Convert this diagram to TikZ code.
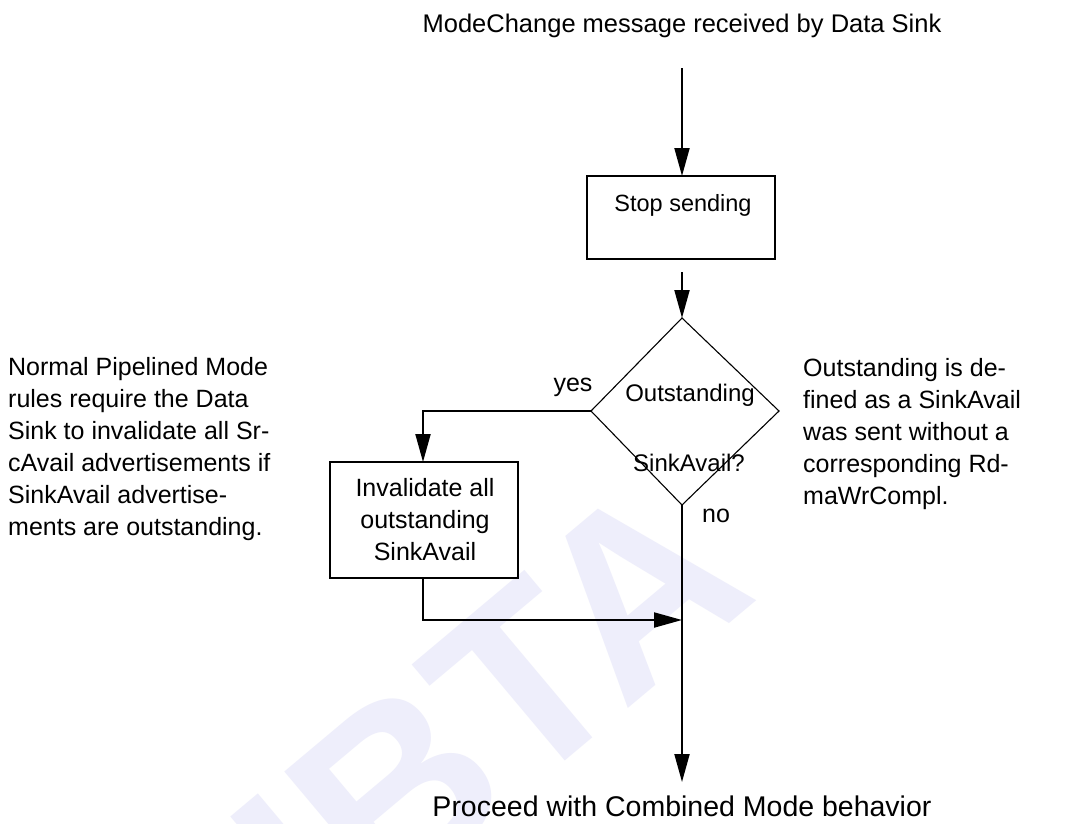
\documentclass[tikz,border=0pt]{standalone}
\usepackage{fontspec}
\setmainfont{Liberation Sans}
\usetikzlibrary{arrows.meta}
\definecolor{wm}{RGB}{238,238,251}
\begin{document}
\begin{tikzpicture}[x=1pt,y=-1pt,
  txt/.style={inner sep=0pt,font=\fontsize{25}{32}\selectfont},
  boxline/.style={draw,line width=2.4pt},
  conn/.style={line width=2pt,-{Triangle[length=28pt,width=15pt]}},
  plain/.style={line width=2pt}]
\useasboundingbox (0,0) rectangle (1076,823);
\fill[white] (0,0) rectangle (1076,823);
% watermark
\node[wm,rotate=40,font=\fontsize{250}{250}\selectfont\bfseries,inner sep=0pt] (wmark) at (490,712) {IBTA};
% texts
\node[txt,font=\fontsize{25.5}{32}\selectfont] (start) at (682,26) {ModeChange message received by Data Sink};
\node[txt,font=\fontsize{28.5}{32}\selectfont] (finish) at (682,806) {Proceed with Combined Mode behavior};
% stop box
\path[boxline] (587,176) rectangle (775,259);
\coordinate (stopT) at (682,176);
\coordinate (stopB) at (682,259);
\node[txt,font=\fontsize{23.5}{32}\selectfont] (stop) at (683,205) {Stop sending};
% diamond
\draw[line width=1.1pt] (682,318) -- (779,411) -- (682,505) -- (591,411) -- cycle;
\coordinate (dT) at (682,318);
\coordinate (dL) at (591,411);
\coordinate (dB) at (682,505);
\node[txt,font=\fontsize{24}{32}\selectfont] (q1) at (690,395) {Outstanding};
\node[txt,font=\fontsize{24}{32}\selectfont] (q2) at (689,463) {SinkAvail?};
\node[txt] (yes) at (573,387) {yes};
\node[txt] (no) at (716,516) {no};
% invalidate box
\path[boxline] (330,462) rectangle (518,578);
\coordinate (invT) at (423,462);
\coordinate (invB) at (423,578);
\node[txt,align=center] (inv) at (425,520) {Invalidate all\\outstanding\\SinkAvail};
% side notes
\node[txt,align=left,anchor=west] (left) at (8,449) {Normal Pipelined Mode\\rules require the Data\\Sink to invalidate all Sr-\\cAvail advertisements if\\SinkAvail advertise-\\ments are outstanding.};
\node[txt,align=left,anchor=west] (right) at (803,434) {Outstanding is de-\\fined as a SinkAvail\\was sent without a\\corresponding Rd-\\maWrCompl.};
% connectors
\coordinate (s0) at (682,68);
\coordinate (s1) at (682,272);
\coordinate (j) at (682,620);
\coordinate (e) at (682,782);
\coordinate (corner1) at (423,411);
\coordinate (corner2) at (423,620);
\draw[conn] (s0) -- (stopT);
\draw[conn] (s1) -- (dT);
\draw[conn] (dL) -- (corner1) -- (invT);
\draw[conn] (invB) -- (corner2) -- (j);
\draw[conn] (dB) -- (e);
\end{tikzpicture}
\end{document}
